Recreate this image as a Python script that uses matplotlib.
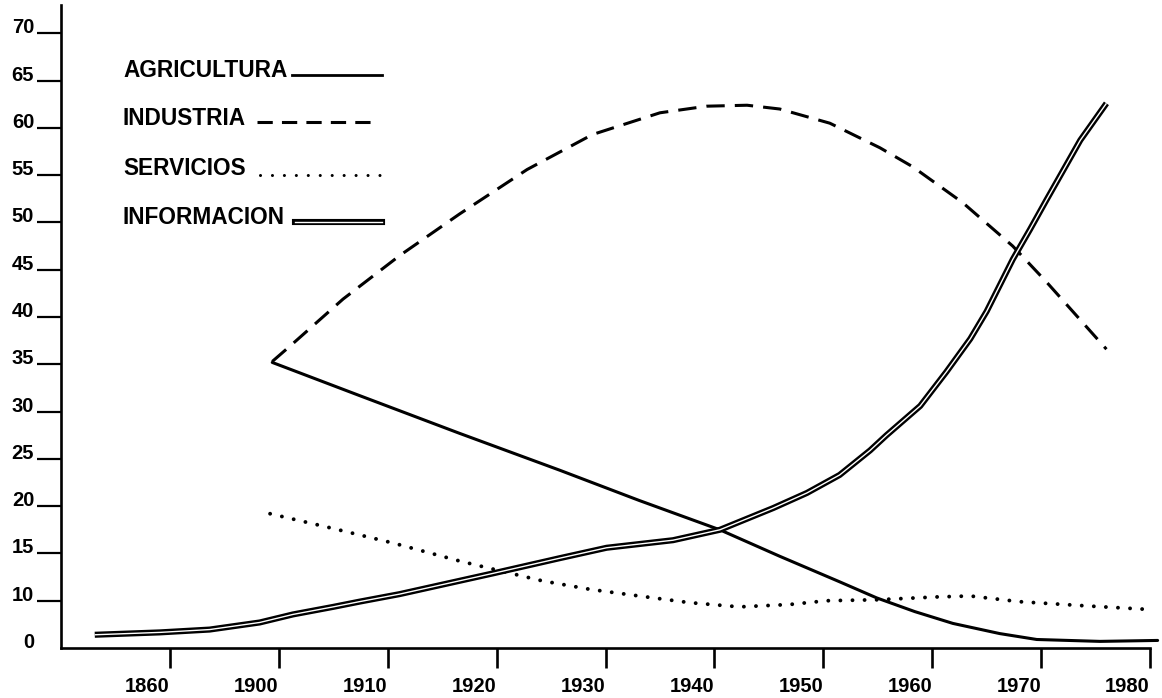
import numpy as np
import matplotlib
matplotlib.use("Agg")
import matplotlib.pyplot as plt
from matplotlib.lines import Line2D

plt.rcParams['font.family'] = ['Liberation Sans', 'DejaVu Sans']
plt.rcParams['font.weight'] = 'bold'

# ---------------- data ----------------
series_names = ['AGRICULTURA', 'INDUSTRIA', 'SERVICIOS', 'INFORMACION']

agri_years = [1897.6, 1907.4, 1916.6, 1925.8, 1933.1, 1940.5, 1946.0, 1951.5,
              1954.9, 1958.4, 1961.9, 1966.2, 1969.6, 1975.4, 1980.7]
agri_vals = [35.2, 31.7, 27.7, 23.8, 20.6, 17.5, 14.7, 12.0,
             10.3, 7.7, 5.2, 3.05, 1.8, 1.4, 1.6]

ind_years = [1897.6, 1901.3, 1905.9, 1911.1, 1916.6, 1922.8, 1928.8, 1935.0, 1939.3,
             1943.0, 1946.0, 1950.6, 1955.2, 1958.2, 1962.8, 1967.4, 1970.5, 1976.0]
ind_vals = [35.3, 37.2, 41.9, 46.5, 50.9, 55.6, 59.3, 61.6, 62.3,
            62.4, 62.0, 60.5, 57.9, 55.9, 52.1, 47.5, 43.7, 36.6]

serv_years = [1896.8, 1904.4, 1910.5, 1916.6, 1919.1, 1924.2, 1928.6, 1933.1, 1937.7,
              1942.3, 1946.9, 1950.3, 1954.9, 1960.4, 1963.5, 1968.0, 1974.2, 1980.3]
serv_vals = [19.2, 17.8, 16.1, 14.2, 13.5, 12.1, 11.2, 10.5, 9.6,
             8.7, 9.2, 10.0, 10.1, 10.4, 10.5, 9.8, 8.9, 8.1]

info_years = [1832.4, 1856.3, 1874.6, 1893.0, 1901.3, 1905.0, 1907.4, 1911.1, 1915.4,
              1919.7, 1925.8, 1930.1, 1936.2, 1940.5, 1945.4, 1948.5, 1951.5, 1954.3,
              1955.8, 1958.9, 1961.3, 1963.5, 1965.0, 1967.4, 1969.0, 1970.5, 1973.6,
              1976.0]
info_vals = [2.8, 3.3, 3.9, 5.4, 7.1, 8.7, 9.8, 10.7, 11.8,
             12.9, 14.5, 15.6, 16.4, 17.5, 19.8, 21.4, 23.3, 25.9,
             27.5, 30.6, 34.2, 37.7, 40.6, 46.1, 49.3, 52.4, 58.7,
             62.6]

x_ticks = [1860, 1900, 1910, 1920, 1930, 1940, 1950, 1960, 1970, 1980]
x_ticklabels = [str(t) for t in x_ticks]
y_ticks = [0, 10, 15, 20, 25, 30, 35, 40, 45, 50, 55, 60, 65, 70]
y_ticklabels = [str(t) for t in y_ticks]


# ---------------- broken scales of the original drawing ----------------
def xf(x):
    x = np.asarray(x, dtype=float)
    return np.where(x < 1900, 1890 + (x - 1860) / 4.0, x)


def xi(p):
    p = np.asarray(p, dtype=float)
    return np.where(p < 1900, 1860 + (p - 1890) * 4.0, p)


def yf(v):
    v = np.asarray(v, dtype=float)
    return np.where(v < 10, 5 + v / 2.0, v)


def yi(p):
    p = np.asarray(p, dtype=float)
    return np.where(p < 10, (p - 5) * 2.0, p)


fig = plt.figure(figsize=(11.62, 6.98), dpi=100)
ax = fig.add_axes([61 / 1162, 1 - 648 / 698, (1150 - 61) / 1162, (648 - 5) / 698])
ax.set_xscale('function', functions=(xf, xi))
ax.set_yscale('function', functions=(yf, yi))
ax.set_xlim(1820, 1980)
ax.set_ylim(0, 73)

for s in ['top', 'right']:
    ax.spines[s].set_visible(False)
for s in ['left', 'bottom']:
    ax.spines[s].set_linewidth(1.9)

ax.set_xticks(x_ticks, x_ticklabels, ha='right', fontsize=14.5, fontweight='bold')
ax.set_yticks(y_ticks, y_ticklabels, va='baseline', fontsize=14.5, fontweight='bold')
ax.minorticks_off()
ax.tick_params(axis='x', direction='out', length=14.5, width=1.9, pad=6.5)
ax.tick_params(axis='y', direction='out', length=17.3, width=1.6, pad=2)
ax.yaxis.get_major_ticks()[0].tick1line.set_visible(False)

# ---------------- series ----------------
ax.plot(agri_years, agri_vals, color='black', lw=2.2, solid_capstyle='round',
        solid_joinstyle='round', clip_on=False)
ax.plot(ind_years, ind_vals, color='black', lw=2.2, dashes=(6, 3.3),
        dash_capstyle='butt', clip_on=False)
ax.plot(serv_years, serv_vals, color='black', lw=2.8, dashes=(0.01, 3.1),
        dash_capstyle='round', clip_on=False)
ax.plot(info_years, info_vals, color='black', lw=4.4, solid_capstyle='butt',
        solid_joinstyle='round', clip_on=False)
ax.plot(info_years, info_vals, color='white', lw=1.0, solid_capstyle='butt',
        solid_joinstyle='round', clip_on=False)

# ---------------- hand drawn legend ----------------
text_x = 0.0569
text_y = [0.898, 0.823, 0.745, 0.670]
samples = [(0.212, 0.295, 0.891), (0.180, 0.285, 0.818),
           (0.183, 0.295, 0.736), (0.215, 0.295, 0.6625)]
for name, ty in zip(series_names, text_y):
    ax.text(text_x, ty, name, transform=ax.transAxes, fontsize=16.3,
            fontweight='bold', va='center', ha='left')

x0, x1, yy = samples[0]
ax.add_line(Line2D([x0, x1], [yy, yy], transform=ax.transAxes, color='black', lw=2.0))
x0, x1, yy = samples[1]
ax.add_line(Line2D([x0, x1], [yy, yy], transform=ax.transAxes, color='black', lw=2.2,
                   dashes=(5, 3)))
x0, x1, yy = samples[2]
ax.add_line(Line2D([x0, x1], [yy, yy], transform=ax.transAxes, color='black', lw=2.2,
                   dashes=(0.01, 3.9), dash_capstyle='round'))
x0, x1, yy = samples[3]
ax.add_line(Line2D([x0, x1], [yy, yy], transform=ax.transAxes, color='black', lw=4.4))
ax.add_line(Line2D([x0, x1], [yy, yy], transform=ax.transAxes, color='white', lw=1.0))

fig.savefig('out.png', dpi=100)
